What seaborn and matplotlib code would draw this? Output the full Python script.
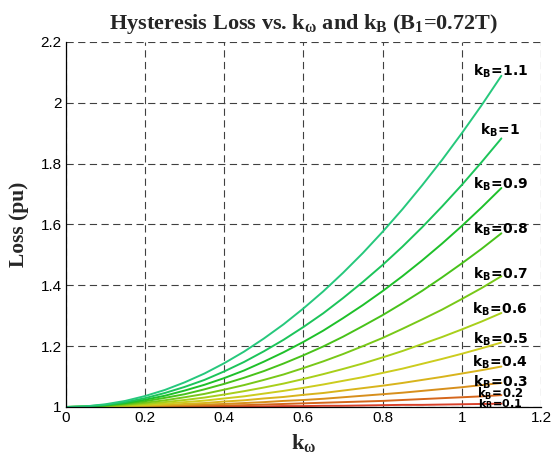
import numpy as np
import pandas as pd
import matplotlib
matplotlib.use("Agg")
import matplotlib.pyplot as plt
import seaborn as sns

# ---- data ----
k_omega = [0.00, 0.05, 0.10, 0.15, 0.20, 0.25, 0.30, 0.35, 0.40, 0.45, 0.50, 0.55,
           0.60, 0.65, 0.70, 0.75, 0.80, 0.85, 0.90, 0.95, 1.00, 1.05, 1.10]
k_B = [0.1, 0.2, 0.3, 0.4, 0.5, 0.6, 0.7, 0.8, 0.9, 1.0, 1.1]
loss_kB_01 = [1.000, 1.000, 1.000, 1.000, 1.000, 1.001, 1.001, 1.001, 1.001, 1.002, 1.002, 1.003,
              1.003, 1.004, 1.004, 1.005, 1.006, 1.007, 1.007, 1.008, 1.009, 1.010, 1.011]
loss_kB_02 = [1.000, 1.000, 1.000, 1.001, 1.001, 1.002, 1.003, 1.004, 1.005, 1.006, 1.008, 1.010,
              1.012, 1.014, 1.016, 1.018, 1.020, 1.023, 1.026, 1.029, 1.032, 1.035, 1.039]
loss_kB_03 = [1.000, 1.000, 1.001, 1.001, 1.003, 1.004, 1.006, 1.008, 1.010, 1.013, 1.016, 1.020,
              1.023, 1.027, 1.032, 1.037, 1.042, 1.047, 1.053, 1.059, 1.065, 1.072, 1.079]
loss_kB_04 = [1.000, 1.000, 1.001, 1.002, 1.004, 1.007, 1.010, 1.013, 1.018, 1.022, 1.028, 1.033,
              1.040, 1.046, 1.054, 1.062, 1.070, 1.079, 1.089, 1.099, 1.110, 1.121, 1.133]
loss_kB_05 = [1.000, 1.000, 1.002, 1.004, 1.007, 1.011, 1.016, 1.021, 1.028, 1.035, 1.044, 1.053,
              1.063, 1.074, 1.086, 1.098, 1.112, 1.126, 1.142, 1.158, 1.175, 1.193, 1.212]
loss_kB_06 = [1.000, 1.001, 1.003, 1.006, 1.010, 1.016, 1.023, 1.031, 1.041, 1.052, 1.064, 1.077,
              1.092, 1.108, 1.125, 1.143, 1.163, 1.184, 1.207, 1.230, 1.255, 1.281, 1.309]
loss_kB_07 = [1.000, 1.001, 1.004, 1.008, 1.014, 1.022, 1.032, 1.043, 1.057, 1.072, 1.089, 1.107,
              1.128, 1.150, 1.174, 1.200, 1.227, 1.257, 1.288, 1.320, 1.355, 1.391, 1.430]
loss_kB_08 = [1.000, 1.001, 1.005, 1.011, 1.019, 1.030, 1.042, 1.058, 1.076, 1.096, 1.118, 1.143,
              1.170, 1.199, 1.231, 1.266, 1.302, 1.341, 1.382, 1.426, 1.472, 1.520, 1.571]
loss_kB_09 = [1.000, 1.001, 1.006, 1.013, 1.024, 1.037, 1.054, 1.073, 1.095, 1.120, 1.149, 1.180,
              1.214, 1.251, 1.292, 1.335, 1.381, 1.430, 1.482, 1.537, 1.595, 1.656, 1.720]
loss_kB_10 = [1.000, 1.002, 1.007, 1.016, 1.029, 1.046, 1.066, 1.089, 1.117, 1.148, 1.183, 1.221,
              1.263, 1.308, 1.358, 1.411, 1.467, 1.527, 1.591, 1.659, 1.730, 1.805, 1.883]
loss_kB_11 = [1.000, 1.002, 1.009, 1.020, 1.036, 1.056, 1.081, 1.110, 1.144, 1.182, 1.225, 1.272,
              1.324, 1.380, 1.441, 1.506, 1.576, 1.650, 1.729, 1.812, 1.900, 1.992, 2.089]
label_texts = ["0.1", "0.2", "0.3", "0.4", "0.5", "0.6", "0.7", "0.8", "0.9", "1", "1.1"]
label_y = [1.008, 1.043, 1.082, 1.148, 1.224, 1.322, 1.437, 1.585, 1.733, 1.911, 2.103]
x_ticks = [0, 0.2, 0.4, 0.6, 0.8, 1.0, 1.2]
x_ticklabels = ["0", "0.2", "0.4", "0.6", "0.8", "1", "1.2"]
y_ticks = [1.0, 1.2, 1.4, 1.6, 1.8, 2.0, 2.2]
y_ticklabels = ["1", "1.2", "1.4", "1.6", "1.8", "2", "2.2"]

series = [loss_kB_01, loss_kB_02, loss_kB_03, loss_kB_04, loss_kB_05, loss_kB_06,
          loss_kB_07, loss_kB_08, loss_kB_09, loss_kB_10, loss_kB_11]
rows = []
for kb, vals in zip(k_B, series):
    for xv, yv in zip(k_omega, vals):
        rows.append({"k_omega": xv, "loss": yv, "kB": kb})
df = pd.DataFrame(rows)

# ---- style ----
colors = ["#d8402a", "#d5661c", "#d78f1c", "#d8b41c", "#cccc1e", "#a8cf1a",
          "#78c818", "#48c21a", "#1ec02a", "#1cc45a", "#26c87c"]
palette = {kb: c for kb, c in zip(k_B, colors)}
label_sizes = [8, 8.5, 10, 10, 10, 10, 10, 10, 10, 10, 10]

sns.set_style("white")
plt.rcParams["font.family"] = ["Liberation Sans", "DejaVu Sans"]
plt.rcParams["mathtext.fontset"] = "custom"
plt.rcParams["mathtext.rm"] = "Liberation Serif:bold"
plt.rcParams["mathtext.it"] = "Liberation Serif:bold"
plt.rcParams["mathtext.bf"] = "Liberation Serif:bold"

fig = plt.figure(figsize=(5.58, 4.59), dpi=100)
ax = fig.add_axes([0.118, 0.1133, 0.8515, 0.7952])

sns.lineplot(data=df, x="k_omega", y="loss", hue="kB", palette=palette,
             legend=False, linewidth=1.4, ax=ax, sort=False)

ax.set_xlim(0, 1.2)
ax.set_ylim(1.0, 2.2)
ax.set_xticks(x_ticks)
ax.set_xticklabels(x_ticklabels)
ax.set_yticks(y_ticks)
ax.set_yticklabels(y_ticklabels)
ax.tick_params(direction="in", length=4, width=0.8, labelsize=11, colors="black",
               pad=3)
ax.grid(True, color="0.25", linestyle=(0, (6.5, 4)), linewidth=0.8)
for s in ["top", "right"]:
    ax.spines[s].set_visible(False)
for s in ["left", "bottom"]:
    ax.spines[s].set_color("black")
    ax.spines[s].set_linewidth(0.9)

for txt, yv, fs in zip(label_texts, label_y, label_sizes):
    ax.text(1.097, yv, r"$\mathbf{k_B\!=\!" + txt + "}$", ha="center", va="center",
            fontsize=fs, color="black", math_fontfamily="dejavusans", zorder=5)

serif = ["Liberation Serif", "DejaVu Serif"]
ax.set_title(r"Hysteresis Loss vs. k$_\omega$ and k$_\mathrm{B}$ (B$_1$=0.72T)",
             fontfamily=serif, fontweight="bold", fontsize=16, pad=9)
ax.set_ylabel("Loss (pu)", fontfamily=serif, fontweight="bold", fontsize=15.5,
              labelpad=8)
ax.set_xlabel(r"k$_\omega$", fontfamily=serif, fontweight="bold", fontsize=16,
              labelpad=5)

fig.savefig("out.png", dpi=100)
